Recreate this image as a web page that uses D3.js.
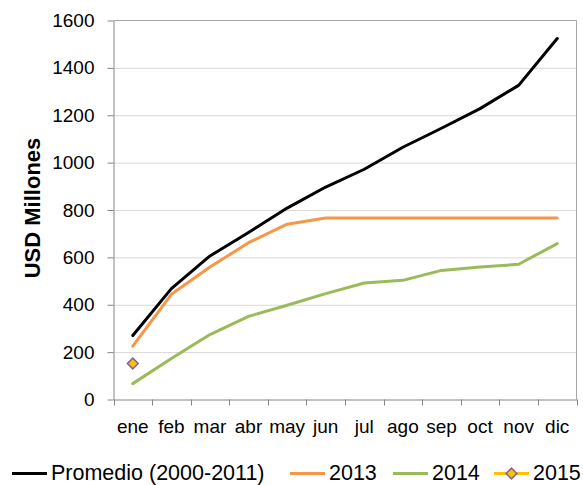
<!DOCTYPE html>
<html>
<head>
<meta charset="utf-8">
<script src="https://cdn.jsdelivr.net/npm/d3@7"></script>
<style>
  html, body { margin: 0; padding: 0; background: #fff; }
  svg { display: block; font-family: "Liberation Sans", Arial, sans-serif; }
</style>
</head>
<body>
<svg id="chart" width="583" height="485"></svg>
<script>
// ---- Data ----
const months = ["ene","feb","mar","abr","may","jun","jul","ago","sep","oct","nov","dic"];
const promedio = [270, 468, 606, 705, 808, 897, 972, 1065, 1145, 1228, 1326, 1524];
const s2013 = [225, 444, 559, 662, 740, 766, 766, 766, 766, 766, 766, 766];
const s2014 = [67, 173, 274, 351, 398, 447, 492, 503, 545, 559, 571, 658];
const s2015 = [152];
const yTicks = [0, 200, 400, 600, 800, 1000, 1200, 1400, 1600];
const seriesNames = ["Promedio (2000-2011)", "2013", "2014", "2015"];

(function () {
// ---- Layout ----
const svg = d3.select("#chart");
const pLeft = 113.5, pRight = 576.5, pTop = 20.5, pBottom = 399.5;
const x = d3.scaleBand().domain(months).range([pLeft, pRight]).padding(0);
const y = d3.scaleLinear().domain([0, 1600]).range([pBottom, pTop]);
const cx = m => x(m) + x.bandwidth() / 2;

// gridlines
svg.append("g")
  .attr("transform", `translate(${pLeft},0)`)
  .call(d3.axisLeft(y).tickValues(yTicks.filter(v => v > 0 && v < 1600)).tickSize(-(pRight - pLeft)).tickFormat(""))
  .call(g => g.select(".domain").remove())
  .call(g => g.selectAll("line").attr("stroke", "#D9D9D9").attr("stroke-width", 1));

// plot border (top & right)
svg.append("path")
  .attr("d", `M${pLeft},${pTop}H${pRight}V${pBottom}`)
  .attr("fill", "none").attr("stroke", "#A6A6A6").attr("stroke-width", 1);

// y axis
svg.append("g")
  .attr("transform", `translate(${pLeft},0)`)
  .call(d3.axisLeft(y).tickValues(yTicks).tickSize(6).tickSizeOuter(0).tickPadding(13).tickFormat(d3.format("d")))
  .call(g => g.select(".domain").attr("stroke", "#868686"))
  .call(g => g.selectAll(".tick line").attr("stroke", "#868686"))
  .call(g => g.selectAll("text").attr("font-size", 19).attr("fill", "#000")
      .attr("font-family", "'Liberation Sans', Arial, sans-serif"));

// x axis (labels)
svg.append("g")
  .attr("transform", `translate(0,${pBottom})`)
  .call(d3.axisBottom(x).tickSize(0).tickSizeOuter(0).tickPadding(20))
  .call(g => g.select(".domain").attr("stroke", "#868686"))
  .call(g => g.selectAll("text").attr("font-size", 19).attr("fill", "#000")
      .attr("font-family", "'Liberation Sans', Arial, sans-serif"));

// x tick marks between categories
const boundaries = months.map(m => x(m)).concat([x(months[months.length - 1]) + x.bandwidth()]);
svg.append("g").selectAll("line").data(boundaries).join("line")
  .attr("x1", d => Math.round(d) + 0.5).attr("x2", d => Math.round(d) + 0.5)
  .attr("y1", pBottom).attr("y2", pBottom + 6)
  .attr("stroke", "#868686");

// y axis title
svg.append("text")
  .attr("transform", "translate(32,208) rotate(-90)")
  .attr("text-anchor", "middle").attr("dominant-baseline", "central")
  .attr("font-size", 22).attr("font-weight", "bold").attr("fill", "#000")
  .text("USD Millones");

// lines
const line = d3.line().x((d, i) => cx(months[i])).y(d => y(d));
const series = [
  {vals: promedio, color: "#000000"},
  {vals: s2013, color: "#F79646"},
  {vals: s2014, color: "#9BBB59"}
];
series.forEach(s => {
  svg.append("path").datum(s.vals)
    .attr("d", line)
    .attr("fill", "none").attr("stroke", s.color).attr("stroke-width", 3)
    .attr("stroke-linejoin", "round").attr("stroke-linecap", "round");
});

// 2015 marker
const diamond = d3.symbol().type(d3.symbolSquare).size(58);
svg.append("g").selectAll("path").data(s2015).join("path")
  .attr("d", diamond)
  .attr("transform", (d, i) => `translate(${cx(months[i])},${y(d)}) rotate(45)`)
  .attr("fill", "#FFC000").attr("stroke", "#8064A2").attr("stroke-width", 1.5);

// legend
const legY = 473.5;
const legItems = [
  {name: seriesNames[0], color: "#000000", x: 12, marker: false},
  {name: seriesNames[1], color: "#F79646", x: 290, marker: false},
  {name: seriesNames[2], color: "#9BBB59", x: 393, marker: false},
  {name: seriesNames[3], color: "#FFC000", x: 494, marker: true}
];
legItems.forEach(it => {
  const g = svg.append("g");
  g.append("line").attr("x1", it.x).attr("x2", it.x + 35).attr("y1", legY).attr("y2", legY)
    .attr("stroke", it.color).attr("stroke-width", 3);
  if (it.marker) {
    g.append("path").attr("d", diamond)
      .attr("transform", `translate(${it.x + 17.5},${legY}) rotate(45)`)
      .attr("fill", "#FFC000").attr("stroke", "#8064A2").attr("stroke-width", 1.5);
  }
  g.append("text").attr("x", it.x + 39).attr("y", legY + 6.5)
    .attr("font-size", 21.5).attr("fill", "#000").text(it.name);
});
})();
</script>
</body>
</html>
